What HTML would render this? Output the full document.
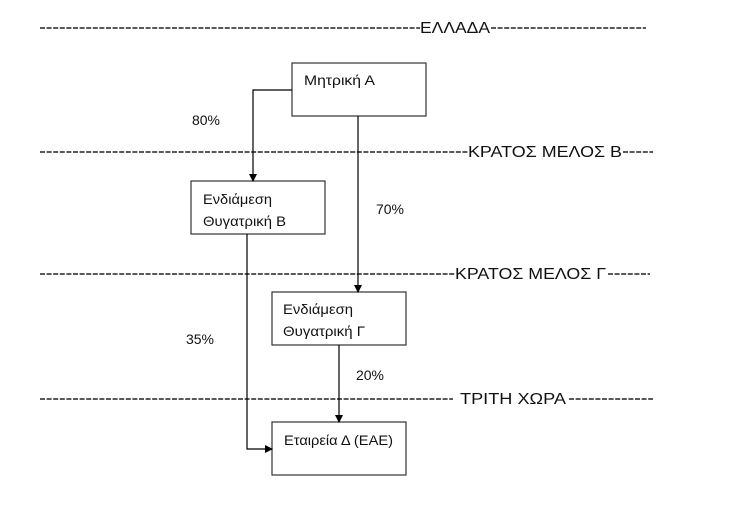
<!DOCTYPE html>
<html><head><meta charset="utf-8"><style>
html,body{margin:0;padding:0;background:#fff;}
svg{display:block;}
text{font-family:"Liberation Sans","DejaVu Sans",sans-serif;fill:#111;}
</style></head><body>
<svg width="755" height="515" viewBox="0 0 755 515" xmlns="http://www.w3.org/2000/svg">
<defs><marker id="a" markerWidth="8" markerHeight="8" refX="7" refY="4" orient="auto" markerUnits="userSpaceOnUse"><path d="M0,0 L8,4 L0,8 Z" fill="#000"/></marker></defs>
<g stroke="#222" stroke-width="1.4" stroke-dasharray="5,1.6">
<line x1="40" y1="28" x2="420" y2="28"/><line x1="491" y1="28" x2="646" y2="28"/>
<line x1="40" y1="152" x2="468" y2="152"/><line x1="623" y1="152" x2="653" y2="152"/>
<line x1="40" y1="274" x2="455" y2="274"/><line x1="608" y1="274" x2="650" y2="274"/>
<line x1="40" y1="399" x2="453" y2="399"/><line x1="569" y1="399" x2="653" y2="399"/>
</g>
<g font-size="15.5">
<text x="420" y="33" textLength="70" lengthAdjust="spacingAndGlyphs">ΕΛΛΑΔΑ</text>
<text x="468" y="157" textLength="154" lengthAdjust="spacingAndGlyphs">ΚΡΑΤΟΣ ΜΕΛΟΣ Β</text>
<text x="455" y="279" textLength="151" lengthAdjust="spacingAndGlyphs">ΚΡΑΤΟΣ ΜΕΛΟΣ Γ</text>
<text x="460" y="404" textLength="106" lengthAdjust="spacingAndGlyphs">ΤΡΙΤΗ ΧΩΡΑ</text>
</g>
<g fill="#fff" stroke="#333" stroke-width="1.2">
<rect x="292" y="63" width="134" height="53"/>
<rect x="191" y="181" width="134" height="53"/>
<rect x="272" y="292" width="134" height="53"/>
<rect x="272" y="422" width="134" height="53"/>
</g>
<g stroke="#000" stroke-width="1.2" fill="none">
<polyline points="292,90 253,90 253,181" marker-end="url(#a)"/>
<line x1="358" y1="116" x2="358" y2="292" marker-end="url(#a)"/>
<line x1="339" y1="345" x2="339" y2="422" marker-end="url(#a)"/>
<polyline points="247,234 247,449 272,449" marker-end="url(#a)"/>
</g>
<g font-size="13.5">
<text x="304" y="85" textLength="71" lengthAdjust="spacingAndGlyphs">Μητρική Α</text>
<text x="203" y="204" textLength="69" lengthAdjust="spacingAndGlyphs">Ενδιάμεση</text>
<text x="203" y="226" textLength="83" lengthAdjust="spacingAndGlyphs">Θυγατρική Β</text>
<text x="283" y="314" textLength="70" lengthAdjust="spacingAndGlyphs">Ενδιάμεση</text>
<text x="283" y="336" textLength="82" lengthAdjust="spacingAndGlyphs">Θυγατρική Γ</text>
<text x="284" y="445" textLength="109" lengthAdjust="spacingAndGlyphs">Εταιρεία Δ (ΕΑΕ)</text>
<text x="192" y="125" textLength="28" lengthAdjust="spacingAndGlyphs">80%</text>
<text x="376" y="214" textLength="28" lengthAdjust="spacingAndGlyphs">70%</text>
<text x="186" y="344" textLength="28" lengthAdjust="spacingAndGlyphs">35%</text>
<text x="356" y="380" textLength="28" lengthAdjust="spacingAndGlyphs">20%</text>
</g>
</svg>
</body></html>
